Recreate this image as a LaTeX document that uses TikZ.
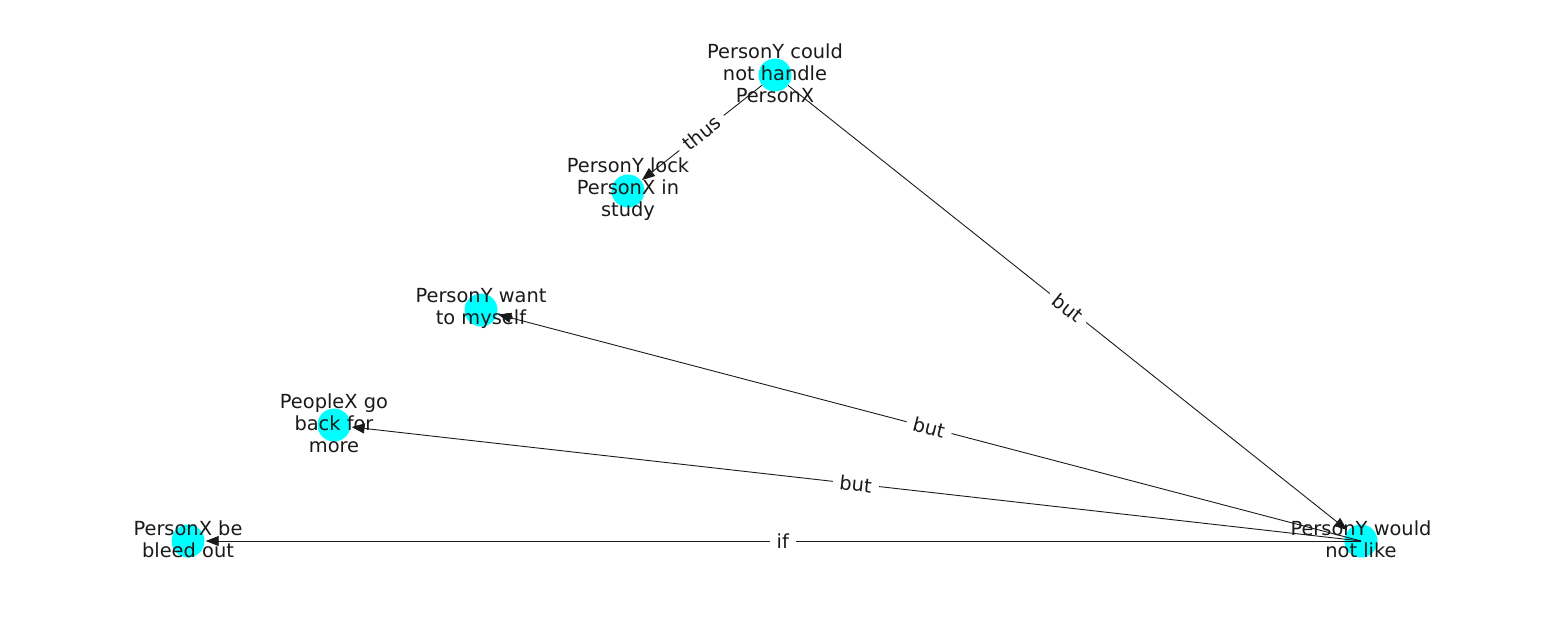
\documentclass[tikz,border=0pt]{standalone}
\usepackage{fontspec}
\setmainfont{DejaVu Sans}
\usetikzlibrary{arrows.meta}
\definecolor{nodecyan}{RGB}{0,255,255}
\definecolor{ink}{RGB}{26,26,26}
\begin{document}
\begin{tikzpicture}[x=1pt,y=-1pt,
  dot/.style={circle,fill=nodecyan,draw=none,minimum size=33pt,inner sep=0pt},
  txt/.style={align=center,text=ink,font=\fontsize{19.4}{22}\selectfont,inner sep=0pt,yshift=2pt},
  edge/.style={draw=ink,line width=0.9pt,-{Triangle[length=13pt,width=10pt]},shorten >=1pt},
  elbl/.style={fill=white,text=ink,font=\fontsize{19.4}{22}\selectfont,sloped,midway,inner xsep=7pt,inner ysep=4pt}]
\useasboundingbox (0,0) rectangle (1550,616);
\node[dot] (a) at (775,75) {};
\node[dot] (b) at (628,191) {};
\node[dot] (c) at (481,310) {};
\node[dot] (d) at (334,425) {};
\node[dot] (e) at (188,541) {};
\node[dot] (f) at (1361,541) {};
\draw[edge] (a) -- node[elbl] {thus} (b);
\draw[edge] (a) -- node[elbl] {but} (f);
\draw[edge] (f.center) -- node[elbl] {but} (c);
\draw[edge] (f.center) -- node[elbl] {but} (d);
\draw[edge] (f.center) -- node[elbl] {if} (e);
\node[txt] (at) at (a) {PersonY could\\not handle\\PersonX};
\node[txt] (bt) at (b) {PersonY lock\\PersonX in\\study};
\node[txt] (ct) at (c) {PersonY want\\to myself};
\node[txt] (dt) at (d) {PeopleX go\\back for\\more};
\node[txt] (et) at (e) {PersonX be\\bleed out};
\node[txt] (ft) at (f) {PersonY would\\not like};
\end{tikzpicture}
\end{document}
